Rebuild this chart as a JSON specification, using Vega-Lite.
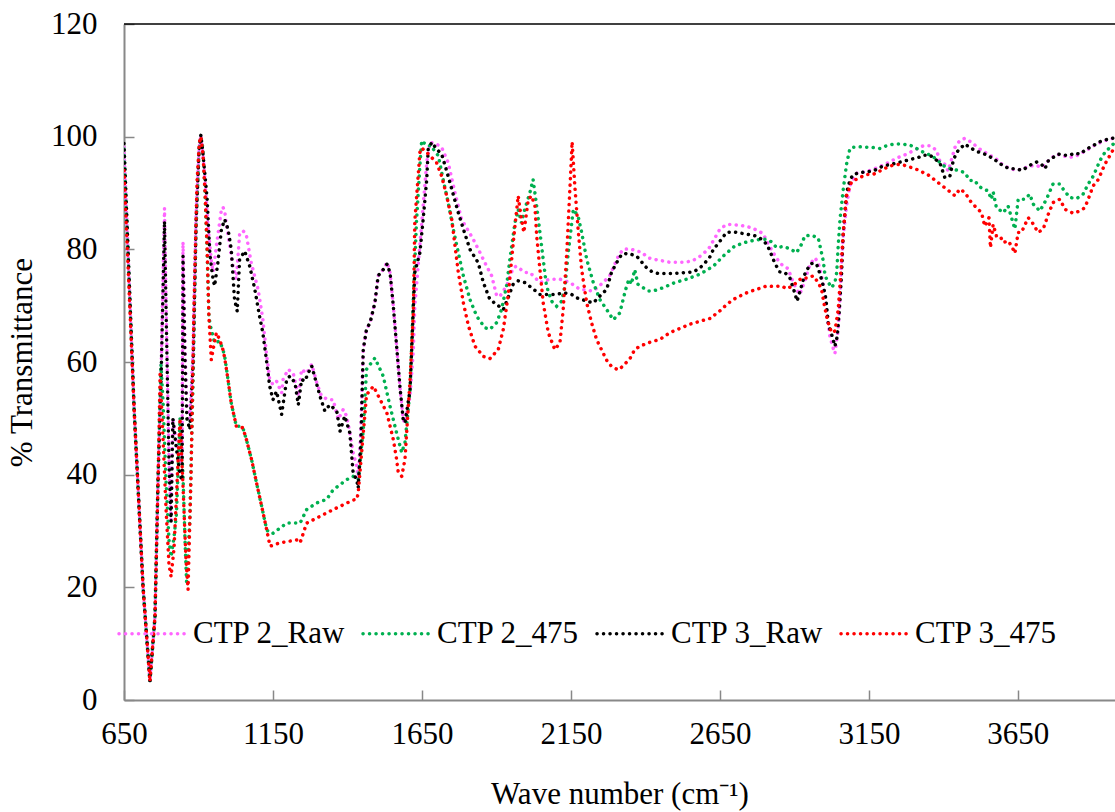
{
"$schema":"https://vega.github.io/schema/vega-lite/v6.json",
"width":991,"height":676,
"autosize":{"type":"none"},
"padding":{"left":124,"top":24,"right":0,"bottom":112},
"background":"white",
"config":{"view":{"stroke":null}},
"layer":[
{"data":{"values":[
{"s":"CTP 2_Raw","x":650,"y":98.1},{"s":"CTP 2_Raw","x":684,"y":51.6},{"s":"CTP 2_Raw","x":714,"y":20},{"s":"CTP 2_Raw","x":737,"y":3.3},{"s":"CTP 2_Raw","x":754,"y":14.8},{"s":"CTP 2_Raw","x":764,"y":38.6},{"s":"CTP 2_Raw","x":774,"y":56.9},{"s":"CTP 2_Raw","x":786,"y":87.3},{"s":"CTP 2_Raw","x":791,"y":71},{"s":"CTP 2_Raw","x":801,"y":42.7},{"s":"CTP 2_Raw","x":808,"y":32},{"s":"CTP 2_Raw","x":814,"y":50},{"s":"CTP 2_Raw","x":825,"y":46},{"s":"CTP 2_Raw","x":838,"y":42},{"s":"CTP 2_Raw","x":845,"y":44},{"s":"CTP 2_Raw","x":848,"y":81.3},{"s":"CTP 2_Raw","x":855,"y":62},{"s":"CTP 2_Raw","x":861,"y":52},{"s":"CTP 2_Raw","x":871,"y":50},{"s":"CTP 2_Raw","x":882,"y":62},{"s":"CTP 2_Raw","x":892,"y":86},{"s":"CTP 2_Raw","x":902,"y":98},{"s":"CTP 2_Raw","x":908,"y":100.3},{"s":"CTP 2_Raw","x":915,"y":97},{"s":"CTP 2_Raw","x":922,"y":92},{"s":"CTP 2_Raw","x":932,"y":84},{"s":"CTP 2_Raw","x":943,"y":78},{"s":"CTP 2_Raw","x":949,"y":76},{"s":"CTP 2_Raw","x":960,"y":80.6},{"s":"CTP 2_Raw","x":977,"y":87.1},{"s":"CTP 2_Raw","x":982,"y":87.5},{"s":"CTP 2_Raw","x":988,"y":86.8},{"s":"CTP 2_Raw","x":993,"y":84.7},{"s":"CTP 2_Raw","x":1005,"y":80.6},{"s":"CTP 2_Raw","x":1016,"y":77},{"s":"CTP 2_Raw","x":1027,"y":74.7},{"s":"CTP 2_Raw","x":1038,"y":82.7},{"s":"CTP 2_Raw","x":1049,"y":83.3},{"s":"CTP 2_Raw","x":1060,"y":82.7},{"s":"CTP 2_Raw","x":1077,"y":77.6},{"s":"CTP 2_Raw","x":1100,"y":72.9},{"s":"CTP 2_Raw","x":1116,"y":67.6},{"s":"CTP 2_Raw","x":1128,"y":61.6},{"s":"CTP 2_Raw","x":1139,"y":56.9},{"s":"CTP 2_Raw","x":1150,"y":56},{"s":"CTP 2_Raw","x":1162,"y":56.6},{"s":"CTP 2_Raw","x":1179,"y":54.5},{"s":"CTP 2_Raw","x":1184,"y":56.9},{"s":"CTP 2_Raw","x":1201,"y":58.7},{"s":"CTP 2_Raw","x":1218,"y":58},{"s":"CTP 2_Raw","x":1235,"y":53.9},{"s":"CTP 2_Raw","x":1246,"y":58.7},{"s":"CTP 2_Raw","x":1263,"y":58},{"s":"CTP 2_Raw","x":1280,"y":59.6},{"s":"CTP 2_Raw","x":1297,"y":56.3},{"s":"CTP 2_Raw","x":1313,"y":53.9},{"s":"CTP 2_Raw","x":1336,"y":53.3},{"s":"CTP 2_Raw","x":1352,"y":53.3},{"s":"CTP 2_Raw","x":1369,"y":49.8},{"s":"CTP 2_Raw","x":1386,"y":51.6},{"s":"CTP 2_Raw","x":1397,"y":50.4},{"s":"CTP 2_Raw","x":1408,"y":47.4},{"s":"CTP 2_Raw","x":1419,"y":43.9},{"s":"CTP 2_Raw","x":1431,"y":41.5},{"s":"CTP 2_Raw","x":1436,"y":39.1},{"s":"CTP 2_Raw","x":1445,"y":48},{"s":"CTP 2_Raw","x":1453,"y":62.2},{"s":"CTP 2_Raw","x":1464,"y":65.8},{"s":"CTP 2_Raw","x":1476,"y":67},{"s":"CTP 2_Raw","x":1492,"y":70.5},{"s":"CTP 2_Raw","x":1503,"y":75.3},{"s":"CTP 2_Raw","x":1520,"y":76.4},{"s":"CTP 2_Raw","x":1533,"y":77.7},{"s":"CTP 2_Raw","x":1543,"y":75.8},{"s":"CTP 2_Raw","x":1554,"y":69.9},{"s":"CTP 2_Raw","x":1565,"y":62.8},{"s":"CTP 2_Raw","x":1576,"y":55.7},{"s":"CTP 2_Raw","x":1587,"y":49.8},{"s":"CTP 2_Raw","x":1593,"y":49.2},{"s":"CTP 2_Raw","x":1610,"y":54},{"s":"CTP 2_Raw","x":1621,"y":62},{"s":"CTP 2_Raw","x":1626,"y":69.9},{"s":"CTP 2_Raw","x":1638,"y":77.6},{"s":"CTP 2_Raw","x":1654,"y":87.7},{"s":"CTP 2_Raw","x":1666,"y":95.4},{"s":"CTP 2_Raw","x":1677,"y":99},{"s":"CTP 2_Raw","x":1699,"y":98.7},{"s":"CTP 2_Raw","x":1716,"y":98.1},{"s":"CTP 2_Raw","x":1738,"y":95.4},{"s":"CTP 2_Raw","x":1761,"y":90},{"s":"CTP 2_Raw","x":1783,"y":85.3},{"s":"CTP 2_Raw","x":1800,"y":83.8},{"s":"CTP 2_Raw","x":1822,"y":81.8},{"s":"CTP 2_Raw","x":1845,"y":79.4},{"s":"CTP 2_Raw","x":1867,"y":77},{"s":"CTP 2_Raw","x":1884,"y":75.3},{"s":"CTP 2_Raw","x":1901,"y":71.7},{"s":"CTP 2_Raw","x":1912,"y":71.7},{"s":"CTP 2_Raw","x":1934,"y":73.5},{"s":"CTP 2_Raw","x":1956,"y":76.7},{"s":"CTP 2_Raw","x":1967,"y":77},{"s":"CTP 2_Raw","x":1995,"y":75.9},{"s":"CTP 2_Raw","x":2012,"y":75.9},{"s":"CTP 2_Raw","x":2046,"y":74.1},{"s":"CTP 2_Raw","x":2079,"y":74.7},{"s":"CTP 2_Raw","x":2113,"y":74.7},{"s":"CTP 2_Raw","x":2147,"y":74.1},{"s":"CTP 2_Raw","x":2180,"y":72.9},{"s":"CTP 2_Raw","x":2225,"y":72.6},{"s":"CTP 2_Raw","x":2258,"y":74.1},{"s":"CTP 2_Raw","x":2280,"y":75.3},{"s":"CTP 2_Raw","x":2309,"y":78.8},{"s":"CTP 2_Raw","x":2325,"y":80},{"s":"CTP 2_Raw","x":2348,"y":80.1},{"s":"CTP 2_Raw","x":2370,"y":79.7},{"s":"CTP 2_Raw","x":2387,"y":79.5},{"s":"CTP 2_Raw","x":2409,"y":78.5},{"s":"CTP 2_Raw","x":2432,"y":78.2},{"s":"CTP 2_Raw","x":2482,"y":77.7},{"s":"CTP 2_Raw","x":2527,"y":77.7},{"s":"CTP 2_Raw","x":2555,"y":77.9},{"s":"CTP 2_Raw","x":2577,"y":78.5},{"s":"CTP 2_Raw","x":2611,"y":80},{"s":"CTP 2_Raw","x":2633,"y":82},{"s":"CTP 2_Raw","x":2650,"y":83.6},{"s":"CTP 2_Raw","x":2672,"y":84.4},{"s":"CTP 2_Raw","x":2695,"y":84.4},{"s":"CTP 2_Raw","x":2739,"y":84.1},{"s":"CTP 2_Raw","x":2762,"y":83.7},{"s":"CTP 2_Raw","x":2795,"y":82.8},{"s":"CTP 2_Raw","x":2807,"y":81.5},{"s":"CTP 2_Raw","x":2829,"y":79.4},{"s":"CTP 2_Raw","x":2846,"y":78},{"s":"CTP 2_Raw","x":2862,"y":77},{"s":"CTP 2_Raw","x":2879,"y":76.6},{"s":"CTP 2_Raw","x":2890,"y":74.9},{"s":"CTP 2_Raw","x":2907,"y":72.9},{"s":"CTP 2_Raw","x":2918,"y":72},{"s":"CTP 2_Raw","x":2935,"y":74.4},{"s":"CTP 2_Raw","x":2952,"y":77.3},{"s":"CTP 2_Raw","x":2969,"y":78.5},{"s":"CTP 2_Raw","x":2980,"y":77.6},{"s":"CTP 2_Raw","x":2991,"y":75.3},{"s":"CTP 2_Raw","x":3003,"y":71.7},{"s":"CTP 2_Raw","x":3010,"y":68.1},{"s":"CTP 2_Raw","x":3019,"y":64.6},{"s":"CTP 2_Raw","x":3028,"y":62.8},{"s":"CTP 2_Raw","x":3036,"y":61.5},{"s":"CTP 2_Raw","x":3047,"y":65.8},{"s":"CTP 2_Raw","x":3053,"y":71.1},{"s":"CTP 2_Raw","x":3058,"y":77},{"s":"CTP 2_Raw","x":3064,"y":82.4},{"s":"CTP 2_Raw","x":3075,"y":87.7},{"s":"CTP 2_Raw","x":3086,"y":91.3},{"s":"CTP 2_Raw","x":3109,"y":93.5},{"s":"CTP 2_Raw","x":3142,"y":93.8},{"s":"CTP 2_Raw","x":3164,"y":94.2},{"s":"CTP 2_Raw","x":3204,"y":95.1},{"s":"CTP 2_Raw","x":3226,"y":95.7},{"s":"CTP 2_Raw","x":3248,"y":96.3},{"s":"CTP 2_Raw","x":3277,"y":96.9},{"s":"CTP 2_Raw","x":3299,"y":97.5},{"s":"CTP 2_Raw","x":3333,"y":98.4},{"s":"CTP 2_Raw","x":3355,"y":98.4},{"s":"CTP 2_Raw","x":3377,"y":97.6},{"s":"CTP 2_Raw","x":3388,"y":95.7},{"s":"CTP 2_Raw","x":3405,"y":95.1},{"s":"CTP 2_Raw","x":3416,"y":93.9},{"s":"CTP 2_Raw","x":3439,"y":98.1},{"s":"CTP 2_Raw","x":3455,"y":99.3},{"s":"CTP 2_Raw","x":3472,"y":99.7},{"s":"CTP 2_Raw","x":3494,"y":99},{"s":"CTP 2_Raw","x":3522,"y":97.8},{"s":"CTP 2_Raw","x":3550,"y":96.9},{"s":"CTP 2_Raw","x":3578,"y":96},{"s":"CTP 2_Raw","x":3601,"y":94.9},{"s":"CTP 2_Raw","x":3617,"y":94.5},{"s":"CTP 2_Raw","x":3640,"y":94.1},{"s":"CTP 2_Raw","x":3662,"y":94.2},{"s":"CTP 2_Raw","x":3690,"y":94.8},{"s":"CTP 2_Raw","x":3713,"y":94.9},{"s":"CTP 2_Raw","x":3729,"y":94.5},{"s":"CTP 2_Raw","x":3752,"y":95.7},{"s":"CTP 2_Raw","x":3780,"y":96.9},{"s":"CTP 2_Raw","x":3802,"y":96.6},{"s":"CTP 2_Raw","x":3824,"y":96.3},{"s":"CTP 2_Raw","x":3847,"y":96.6},{"s":"CTP 2_Raw","x":3881,"y":97.6},{"s":"CTP 2_Raw","x":3914,"y":98.7},{"s":"CTP 2_Raw","x":3948,"y":99.4},{"s":"CTP 2_Raw","x":3965,"y":99.7},{"s":"CTP 2_Raw","x":3976,"y":99.5},
{"s":"CTP 2_475","x":650,"y":97.8},{"s":"CTP 2_475","x":684,"y":51.6},{"s":"CTP 2_475","x":714,"y":20},{"s":"CTP 2_475","x":737,"y":3.3},{"s":"CTP 2_475","x":754,"y":14.8},{"s":"CTP 2_475","x":764,"y":39},{"s":"CTP 2_475","x":774,"y":59.6},{"s":"CTP 2_475","x":781,"y":53},{"s":"CTP 2_475","x":791,"y":39},{"s":"CTP 2_475","x":801,"y":28.4},{"s":"CTP 2_475","x":808,"y":25.4},{"s":"CTP 2_475","x":818,"y":29},{"s":"CTP 2_475","x":826,"y":33},{"s":"CTP 2_475","x":838,"y":50},{"s":"CTP 2_475","x":848,"y":40},{"s":"CTP 2_475","x":855,"y":28},{"s":"CTP 2_475","x":860,"y":21},{"s":"CTP 2_475","x":871,"y":32},{"s":"CTP 2_475","x":882,"y":57},{"s":"CTP 2_475","x":892,"y":83.6},{"s":"CTP 2_475","x":902,"y":97.8},{"s":"CTP 2_475","x":908,"y":100},{"s":"CTP 2_475","x":915,"y":97.8},{"s":"CTP 2_475","x":922,"y":90},{"s":"CTP 2_475","x":929,"y":80},{"s":"CTP 2_475","x":935,"y":68},{"s":"CTP 2_475","x":940,"y":66.4},{"s":"CTP 2_475","x":954,"y":63.4},{"s":"CTP 2_475","x":971,"y":63.7},{"s":"CTP 2_475","x":982,"y":62.2},{"s":"CTP 2_475","x":988,"y":61},{"s":"CTP 2_475","x":999,"y":56.9},{"s":"CTP 2_475","x":1010,"y":52.7},{"s":"CTP 2_475","x":1027,"y":48.6},{"s":"CTP 2_475","x":1038,"y":48.6},{"s":"CTP 2_475","x":1049,"y":48.3},{"s":"CTP 2_475","x":1061,"y":46.2},{"s":"CTP 2_475","x":1078,"y":42.7},{"s":"CTP 2_475","x":1095,"y":38.5},{"s":"CTP 2_475","x":1112,"y":34.4},{"s":"CTP 2_475","x":1129,"y":30.2},{"s":"CTP 2_475","x":1140,"y":29.6},{"s":"CTP 2_475","x":1150,"y":29.6},{"s":"CTP 2_475","x":1196,"y":31.4},{"s":"CTP 2_475","x":1241,"y":31.4},{"s":"CTP 2_475","x":1263,"y":33.8},{"s":"CTP 2_475","x":1297,"y":35},{"s":"CTP 2_475","x":1330,"y":35.6},{"s":"CTP 2_475","x":1352,"y":37.3},{"s":"CTP 2_475","x":1397,"y":39.1},{"s":"CTP 2_475","x":1419,"y":39.7},{"s":"CTP 2_475","x":1436,"y":39.1},{"s":"CTP 2_475","x":1453,"y":48},{"s":"CTP 2_475","x":1464,"y":58.7},{"s":"CTP 2_475","x":1492,"y":60.7},{"s":"CTP 2_475","x":1520,"y":57.5},{"s":"CTP 2_475","x":1543,"y":52.1},{"s":"CTP 2_475","x":1565,"y":47.4},{"s":"CTP 2_475","x":1582,"y":43.9},{"s":"CTP 2_475","x":1593,"y":45.7},{"s":"CTP 2_475","x":1610,"y":55},{"s":"CTP 2_475","x":1621,"y":71},{"s":"CTP 2_475","x":1632,"y":85.3},{"s":"CTP 2_475","x":1643,"y":94.8},{"s":"CTP 2_475","x":1649,"y":99.3},{"s":"CTP 2_475","x":1666,"y":98.4},{"s":"CTP 2_475","x":1683,"y":98.4},{"s":"CTP 2_475","x":1688,"y":97.8},{"s":"CTP 2_475","x":1705,"y":96.6},{"s":"CTP 2_475","x":1721,"y":92.4},{"s":"CTP 2_475","x":1738,"y":88.3},{"s":"CTP 2_475","x":1755,"y":83.6},{"s":"CTP 2_475","x":1772,"y":79.4},{"s":"CTP 2_475","x":1789,"y":75.3},{"s":"CTP 2_475","x":1811,"y":71.1},{"s":"CTP 2_475","x":1834,"y":68.1},{"s":"CTP 2_475","x":1861,"y":66.1},{"s":"CTP 2_475","x":1878,"y":65.8},{"s":"CTP 2_475","x":1901,"y":67},{"s":"CTP 2_475","x":1917,"y":69.3},{"s":"CTP 2_475","x":1934,"y":73.5},{"s":"CTP 2_475","x":1945,"y":78.2},{"s":"CTP 2_475","x":1962,"y":84.7},{"s":"CTP 2_475","x":1973,"y":87.1},{"s":"CTP 2_475","x":1984,"y":84.7},{"s":"CTP 2_475","x":1995,"y":87.1},{"s":"CTP 2_475","x":2012,"y":90},{"s":"CTP 2_475","x":2023,"y":92.4},{"s":"CTP 2_475","x":2035,"y":87.7},{"s":"CTP 2_475","x":2046,"y":83},{"s":"CTP 2_475","x":2057,"y":78.2},{"s":"CTP 2_475","x":2068,"y":73.5},{"s":"CTP 2_475","x":2085,"y":70.8},{"s":"CTP 2_475","x":2102,"y":69.9},{"s":"CTP 2_475","x":2119,"y":70.8},{"s":"CTP 2_475","x":2130,"y":73.5},{"s":"CTP 2_475","x":2141,"y":79.4},{"s":"CTP 2_475","x":2158,"y":87.1},{"s":"CTP 2_475","x":2174,"y":85.9},{"s":"CTP 2_475","x":2186,"y":83},{"s":"CTP 2_475","x":2203,"y":78.2},{"s":"CTP 2_475","x":2225,"y":74.1},{"s":"CTP 2_475","x":2247,"y":71.1},{"s":"CTP 2_475","x":2270,"y":69.3},{"s":"CTP 2_475","x":2292,"y":67.5},{"s":"CTP 2_475","x":2314,"y":68.7},{"s":"CTP 2_475","x":2328,"y":71.7},{"s":"CTP 2_475","x":2337,"y":73.5},{"s":"CTP 2_475","x":2345,"y":74.7},{"s":"CTP 2_475","x":2353,"y":73.8},{"s":"CTP 2_475","x":2364,"y":76.4},{"s":"CTP 2_475","x":2375,"y":73.8},{"s":"CTP 2_475","x":2392,"y":73.2},{"s":"CTP 2_475","x":2409,"y":72.6},{"s":"CTP 2_475","x":2426,"y":72.6},{"s":"CTP 2_475","x":2460,"y":73.2},{"s":"CTP 2_475","x":2499,"y":74.1},{"s":"CTP 2_475","x":2538,"y":74.7},{"s":"CTP 2_475","x":2583,"y":75.6},{"s":"CTP 2_475","x":2628,"y":77},{"s":"CTP 2_475","x":2661,"y":78.8},{"s":"CTP 2_475","x":2700,"y":80.6},{"s":"CTP 2_475","x":2739,"y":81.3},{"s":"CTP 2_475","x":2773,"y":81.7},{"s":"CTP 2_475","x":2807,"y":81.8},{"s":"CTP 2_475","x":2824,"y":81.3},{"s":"CTP 2_475","x":2840,"y":80.3},{"s":"CTP 2_475","x":2862,"y":80.5},{"s":"CTP 2_475","x":2885,"y":80.1},{"s":"CTP 2_475","x":2907,"y":79.4},{"s":"CTP 2_475","x":2924,"y":80.9},{"s":"CTP 2_475","x":2935,"y":82.4},{"s":"CTP 2_475","x":2958,"y":82.5},{"s":"CTP 2_475","x":2980,"y":82},{"s":"CTP 2_475","x":2986,"y":80.6},{"s":"CTP 2_475","x":2997,"y":77.9},{"s":"CTP 2_475","x":3003,"y":75.3},{"s":"CTP 2_475","x":3014,"y":74.1},{"s":"CTP 2_475","x":3025,"y":73.2},{"s":"CTP 2_475","x":3036,"y":74.1},{"s":"CTP 2_475","x":3042,"y":75.9},{"s":"CTP 2_475","x":3047,"y":80.6},{"s":"CTP 2_475","x":3053,"y":85.3},{"s":"CTP 2_475","x":3064,"y":90.7},{"s":"CTP 2_475","x":3075,"y":95.1},{"s":"CTP 2_475","x":3086,"y":97.8},{"s":"CTP 2_475","x":3092,"y":98.1},{"s":"CTP 2_475","x":3120,"y":98.2},{"s":"CTP 2_475","x":3159,"y":98.1},{"s":"CTP 2_475","x":3187,"y":97.9},{"s":"CTP 2_475","x":3215,"y":98.5},{"s":"CTP 2_475","x":3237,"y":98.7},{"s":"CTP 2_475","x":3260,"y":98.7},{"s":"CTP 2_475","x":3288,"y":98.5},{"s":"CTP 2_475","x":3310,"y":97.9},{"s":"CTP 2_475","x":3330,"y":97.3},{"s":"CTP 2_475","x":3361,"y":96.6},{"s":"CTP 2_475","x":3377,"y":96},{"s":"CTP 2_475","x":3394,"y":95.1},{"s":"CTP 2_475","x":3411,"y":94.5},{"s":"CTP 2_475","x":3433,"y":94.2},{"s":"CTP 2_475","x":3450,"y":94},{"s":"CTP 2_475","x":3472,"y":93.6},{"s":"CTP 2_475","x":3489,"y":92.2},{"s":"CTP 2_475","x":3506,"y":92.2},{"s":"CTP 2_475","x":3517,"y":91.3},{"s":"CTP 2_475","x":3533,"y":90.7},{"s":"CTP 2_475","x":3550,"y":90.4},{"s":"CTP 2_475","x":3561,"y":88.9},{"s":"CTP 2_475","x":3567,"y":90.2},{"s":"CTP 2_475","x":3578,"y":87.4},{"s":"CTP 2_475","x":3601,"y":86.5},{"s":"CTP 2_475","x":3617,"y":87.7},{"s":"CTP 2_475","x":3640,"y":83.6},{"s":"CTP 2_475","x":3651,"y":88.9},{"s":"CTP 2_475","x":3674,"y":88.9},{"s":"CTP 2_475","x":3690,"y":89.8},{"s":"CTP 2_475","x":3702,"y":88},{"s":"CTP 2_475","x":3724,"y":86.8},{"s":"CTP 2_475","x":3746,"y":88.9},{"s":"CTP 2_475","x":3768,"y":91.6},{"s":"CTP 2_475","x":3791,"y":91.6},{"s":"CTP 2_475","x":3802,"y":90.7},{"s":"CTP 2_475","x":3824,"y":89.2},{"s":"CTP 2_475","x":3847,"y":89},{"s":"CTP 2_475","x":3869,"y":89.8},{"s":"CTP 2_475","x":3886,"y":91.6},{"s":"CTP 2_475","x":3903,"y":93},{"s":"CTP 2_475","x":3925,"y":95.7},{"s":"CTP 2_475","x":3942,"y":97.2},{"s":"CTP 2_475","x":3965,"y":98.4},{"s":"CTP 2_475","x":3976,"y":99},
{"s":"CTP 3_Raw","x":650,"y":98.8},{"s":"CTP 3_Raw","x":684,"y":51.6},{"s":"CTP 3_Raw","x":714,"y":20},{"s":"CTP 3_Raw","x":737,"y":3.3},{"s":"CTP 3_Raw","x":754,"y":14.8},{"s":"CTP 3_Raw","x":764,"y":38.6},{"s":"CTP 3_Raw","x":774,"y":56},{"s":"CTP 3_Raw","x":786,"y":85},{"s":"CTP 3_Raw","x":791,"y":70},{"s":"CTP 3_Raw","x":801,"y":42},{"s":"CTP 3_Raw","x":808,"y":31.7},{"s":"CTP 3_Raw","x":814,"y":50},{"s":"CTP 3_Raw","x":825,"y":45},{"s":"CTP 3_Raw","x":838,"y":40},{"s":"CTP 3_Raw","x":845,"y":39},{"s":"CTP 3_Raw","x":848,"y":78.8},{"s":"CTP 3_Raw","x":855,"y":60},{"s":"CTP 3_Raw","x":861,"y":50},{"s":"CTP 3_Raw","x":871,"y":48},{"s":"CTP 3_Raw","x":882,"y":60},{"s":"CTP 3_Raw","x":892,"y":85},{"s":"CTP 3_Raw","x":902,"y":97.8},{"s":"CTP 3_Raw","x":908,"y":100.3},{"s":"CTP 3_Raw","x":915,"y":97},{"s":"CTP 3_Raw","x":922,"y":93},{"s":"CTP 3_Raw","x":929,"y":88.9},{"s":"CTP 3_Raw","x":938,"y":79.4},{"s":"CTP 3_Raw","x":943,"y":77},{"s":"CTP 3_Raw","x":949,"y":74.7},{"s":"CTP 3_Raw","x":954,"y":73.5},{"s":"CTP 3_Raw","x":965,"y":77.6},{"s":"CTP 3_Raw","x":977,"y":83.6},{"s":"CTP 3_Raw","x":988,"y":85.3},{"s":"CTP 3_Raw","x":999,"y":83.6},{"s":"CTP 3_Raw","x":1010,"y":80},{"s":"CTP 3_Raw","x":1021,"y":71.1},{"s":"CTP 3_Raw","x":1030,"y":69},{"s":"CTP 3_Raw","x":1038,"y":78.2},{"s":"CTP 3_Raw","x":1055,"y":79.7},{"s":"CTP 3_Raw","x":1072,"y":77},{"s":"CTP 3_Raw","x":1089,"y":72.9},{"s":"CTP 3_Raw","x":1105,"y":68.1},{"s":"CTP 3_Raw","x":1116,"y":65.2},{"s":"CTP 3_Raw","x":1128,"y":60.4},{"s":"CTP 3_Raw","x":1139,"y":55.7},{"s":"CTP 3_Raw","x":1150,"y":53.3},{"s":"CTP 3_Raw","x":1162,"y":54.8},{"s":"CTP 3_Raw","x":1179,"y":50.7},{"s":"CTP 3_Raw","x":1196,"y":56.9},{"s":"CTP 3_Raw","x":1207,"y":57.5},{"s":"CTP 3_Raw","x":1224,"y":56.3},{"s":"CTP 3_Raw","x":1235,"y":52.4},{"s":"CTP 3_Raw","x":1246,"y":56.9},{"s":"CTP 3_Raw","x":1257,"y":56.6},{"s":"CTP 3_Raw","x":1268,"y":58},{"s":"CTP 3_Raw","x":1280,"y":59.3},{"s":"CTP 3_Raw","x":1308,"y":53.9},{"s":"CTP 3_Raw","x":1324,"y":51.3},{"s":"CTP 3_Raw","x":1341,"y":52.4},{"s":"CTP 3_Raw","x":1364,"y":51.3},{"s":"CTP 3_Raw","x":1375,"y":47.7},{"s":"CTP 3_Raw","x":1391,"y":50.4},{"s":"CTP 3_Raw","x":1408,"y":47.4},{"s":"CTP 3_Raw","x":1419,"y":40.3},{"s":"CTP 3_Raw","x":1431,"y":39.1},{"s":"CTP 3_Raw","x":1436,"y":37.6},{"s":"CTP 3_Raw","x":1445,"y":46},{"s":"CTP 3_Raw","x":1453,"y":62.2},{"s":"CTP 3_Raw","x":1464,"y":65.8},{"s":"CTP 3_Raw","x":1476,"y":67},{"s":"CTP 3_Raw","x":1492,"y":70.5},{"s":"CTP 3_Raw","x":1503,"y":75.3},{"s":"CTP 3_Raw","x":1520,"y":76.4},{"s":"CTP 3_Raw","x":1533,"y":77.4},{"s":"CTP 3_Raw","x":1543,"y":75.8},{"s":"CTP 3_Raw","x":1554,"y":69.9},{"s":"CTP 3_Raw","x":1565,"y":62.8},{"s":"CTP 3_Raw","x":1576,"y":55.7},{"s":"CTP 3_Raw","x":1587,"y":49.8},{"s":"CTP 3_Raw","x":1593,"y":49.2},{"s":"CTP 3_Raw","x":1610,"y":55},{"s":"CTP 3_Raw","x":1615,"y":61.6},{"s":"CTP 3_Raw","x":1626,"y":75.9},{"s":"CTP 3_Raw","x":1643,"y":79.4},{"s":"CTP 3_Raw","x":1654,"y":85.3},{"s":"CTP 3_Raw","x":1666,"y":92.4},{"s":"CTP 3_Raw","x":1671,"y":97.8},{"s":"CTP 3_Raw","x":1683,"y":99},{"s":"CTP 3_Raw","x":1699,"y":97.8},{"s":"CTP 3_Raw","x":1716,"y":96.9},{"s":"CTP 3_Raw","x":1733,"y":93.9},{"s":"CTP 3_Raw","x":1750,"y":90.7},{"s":"CTP 3_Raw","x":1772,"y":86.5},{"s":"CTP 3_Raw","x":1789,"y":83.6},{"s":"CTP 3_Raw","x":1811,"y":80},{"s":"CTP 3_Raw","x":1839,"y":77.6},{"s":"CTP 3_Raw","x":1856,"y":74.1},{"s":"CTP 3_Raw","x":1878,"y":71.1},{"s":"CTP 3_Raw","x":1901,"y":70.2},{"s":"CTP 3_Raw","x":1923,"y":69.3},{"s":"CTP 3_Raw","x":1939,"y":71.4},{"s":"CTP 3_Raw","x":1956,"y":73.8},{"s":"CTP 3_Raw","x":1973,"y":74.4},{"s":"CTP 3_Raw","x":1995,"y":74.1},{"s":"CTP 3_Raw","x":2018,"y":73.2},{"s":"CTP 3_Raw","x":2046,"y":72},{"s":"CTP 3_Raw","x":2079,"y":72},{"s":"CTP 3_Raw","x":2102,"y":72},{"s":"CTP 3_Raw","x":2124,"y":72.3},{"s":"CTP 3_Raw","x":2152,"y":72},{"s":"CTP 3_Raw","x":2169,"y":71.4},{"s":"CTP 3_Raw","x":2203,"y":70.8},{"s":"CTP 3_Raw","x":2225,"y":70.5},{"s":"CTP 3_Raw","x":2247,"y":71.7},{"s":"CTP 3_Raw","x":2270,"y":72.9},{"s":"CTP 3_Raw","x":2286,"y":75.9},{"s":"CTP 3_Raw","x":2303,"y":77.6},{"s":"CTP 3_Raw","x":2320,"y":79.1},{"s":"CTP 3_Raw","x":2342,"y":79.3},{"s":"CTP 3_Raw","x":2370,"y":78.8},{"s":"CTP 3_Raw","x":2381,"y":78.2},{"s":"CTP 3_Raw","x":2398,"y":77},{"s":"CTP 3_Raw","x":2420,"y":76.1},{"s":"CTP 3_Raw","x":2443,"y":75.7},{"s":"CTP 3_Raw","x":2488,"y":75.7},{"s":"CTP 3_Raw","x":2538,"y":75.9},{"s":"CTP 3_Raw","x":2561,"y":76},{"s":"CTP 3_Raw","x":2583,"y":76.7},{"s":"CTP 3_Raw","x":2600,"y":77.6},{"s":"CTP 3_Raw","x":2617,"y":78.7},{"s":"CTP 3_Raw","x":2628,"y":80},{"s":"CTP 3_Raw","x":2644,"y":81},{"s":"CTP 3_Raw","x":2672,"y":83},{"s":"CTP 3_Raw","x":2695,"y":83.1},{"s":"CTP 3_Raw","x":2739,"y":82.7},{"s":"CTP 3_Raw","x":2768,"y":82.4},{"s":"CTP 3_Raw","x":2790,"y":81.8},{"s":"CTP 3_Raw","x":2807,"y":80.9},{"s":"CTP 3_Raw","x":2818,"y":79.7},{"s":"CTP 3_Raw","x":2829,"y":78.2},{"s":"CTP 3_Raw","x":2840,"y":77},{"s":"CTP 3_Raw","x":2851,"y":76},{"s":"CTP 3_Raw","x":2868,"y":75.9},{"s":"CTP 3_Raw","x":2885,"y":74.9},{"s":"CTP 3_Raw","x":2901,"y":72.3},{"s":"CTP 3_Raw","x":2909,"y":70.8},{"s":"CTP 3_Raw","x":2924,"y":73.5},{"s":"CTP 3_Raw","x":2935,"y":75.6},{"s":"CTP 3_Raw","x":2952,"y":77.3},{"s":"CTP 3_Raw","x":2963,"y":77.6},{"s":"CTP 3_Raw","x":2975,"y":77.3},{"s":"CTP 3_Raw","x":2986,"y":75.6},{"s":"CTP 3_Raw","x":2997,"y":73.5},{"s":"CTP 3_Raw","x":3006,"y":71.1},{"s":"CTP 3_Raw","x":3014,"y":66.7},{"s":"CTP 3_Raw","x":3025,"y":64.9},{"s":"CTP 3_Raw","x":3036,"y":62.8},{"s":"CTP 3_Raw","x":3044,"y":64.6},{"s":"CTP 3_Raw","x":3050,"y":68.7},{"s":"CTP 3_Raw","x":3058,"y":75.3},{"s":"CTP 3_Raw","x":3064,"y":83},{"s":"CTP 3_Raw","x":3075,"y":90},{"s":"CTP 3_Raw","x":3086,"y":92.2},{"s":"CTP 3_Raw","x":3097,"y":93.3},{"s":"CTP 3_Raw","x":3120,"y":93.6},{"s":"CTP 3_Raw","x":3164,"y":93.9},{"s":"CTP 3_Raw","x":3198,"y":94.8},{"s":"CTP 3_Raw","x":3226,"y":95.1},{"s":"CTP 3_Raw","x":3248,"y":95.4},{"s":"CTP 3_Raw","x":3271,"y":95.7},{"s":"CTP 3_Raw","x":3293,"y":96},{"s":"CTP 3_Raw","x":3316,"y":96.3},{"s":"CTP 3_Raw","x":3333,"y":96.7},{"s":"CTP 3_Raw","x":3355,"y":96.7},{"s":"CTP 3_Raw","x":3372,"y":96},{"s":"CTP 3_Raw","x":3388,"y":95.4},{"s":"CTP 3_Raw","x":3405,"y":92.7},{"s":"CTP 3_Raw","x":3422,"y":93},{"s":"CTP 3_Raw","x":3433,"y":95.7},{"s":"CTP 3_Raw","x":3444,"y":97.2},{"s":"CTP 3_Raw","x":3472,"y":98.7},{"s":"CTP 3_Raw","x":3494,"y":97.9},{"s":"CTP 3_Raw","x":3517,"y":97.3},{"s":"CTP 3_Raw","x":3539,"y":96.9},{"s":"CTP 3_Raw","x":3561,"y":96.3},{"s":"CTP 3_Raw","x":3578,"y":95.7},{"s":"CTP 3_Raw","x":3601,"y":94.8},{"s":"CTP 3_Raw","x":3623,"y":94.3},{"s":"CTP 3_Raw","x":3646,"y":94.3},{"s":"CTP 3_Raw","x":3662,"y":94},{"s":"CTP 3_Raw","x":3679,"y":94.5},{"s":"CTP 3_Raw","x":3696,"y":95.1},{"s":"CTP 3_Raw","x":3713,"y":95.5},{"s":"CTP 3_Raw","x":3729,"y":95.1},{"s":"CTP 3_Raw","x":3741,"y":94.3},{"s":"CTP 3_Raw","x":3752,"y":95.7},{"s":"CTP 3_Raw","x":3768,"y":96.3},{"s":"CTP 3_Raw","x":3785,"y":96.9},{"s":"CTP 3_Raw","x":3808,"y":96.7},{"s":"CTP 3_Raw","x":3824,"y":96.7},{"s":"CTP 3_Raw","x":3841,"y":97.1},{"s":"CTP 3_Raw","x":3858,"y":96.9},{"s":"CTP 3_Raw","x":3881,"y":97.8},{"s":"CTP 3_Raw","x":3903,"y":98.4},{"s":"CTP 3_Raw","x":3920,"y":99},{"s":"CTP 3_Raw","x":3942,"y":99.4},{"s":"CTP 3_Raw","x":3965,"y":99.7},{"s":"CTP 3_Raw","x":3976,"y":99.8},
{"s":"CTP 3_475","x":650,"y":94},{"s":"CTP 3_475","x":684,"y":51.6},{"s":"CTP 3_475","x":714,"y":20},{"s":"CTP 3_475","x":737,"y":3.3},{"s":"CTP 3_475","x":754,"y":14.8},{"s":"CTP 3_475","x":764,"y":38},{"s":"CTP 3_475","x":771,"y":57.8},{"s":"CTP 3_475","x":778,"y":50},{"s":"CTP 3_475","x":791,"y":34},{"s":"CTP 3_475","x":801,"y":24},{"s":"CTP 3_475","x":808,"y":21.9},{"s":"CTP 3_475","x":818,"y":27},{"s":"CTP 3_475","x":838,"y":50},{"s":"CTP 3_475","x":848,"y":38},{"s":"CTP 3_475","x":858,"y":25},{"s":"CTP 3_475","x":865,"y":19.6},{"s":"CTP 3_475","x":875,"y":40},{"s":"CTP 3_475","x":885,"y":70},{"s":"CTP 3_475","x":895,"y":92},{"s":"CTP 3_475","x":903,"y":99},{"s":"CTP 3_475","x":908,"y":100},{"s":"CTP 3_475","x":915,"y":97},{"s":"CTP 3_475","x":922,"y":90},{"s":"CTP 3_475","x":929,"y":80},{"s":"CTP 3_475","x":935,"y":68},{"s":"CTP 3_475","x":943,"y":60.4},{"s":"CTP 3_475","x":949,"y":62.2},{"s":"CTP 3_475","x":960,"y":65.2},{"s":"CTP 3_475","x":971,"y":64},{"s":"CTP 3_475","x":982,"y":62.2},{"s":"CTP 3_475","x":988,"y":60.7},{"s":"CTP 3_475","x":999,"y":56.9},{"s":"CTP 3_475","x":1010,"y":52.7},{"s":"CTP 3_475","x":1027,"y":48.6},{"s":"CTP 3_475","x":1038,"y":48.6},{"s":"CTP 3_475","x":1049,"y":48.3},{"s":"CTP 3_475","x":1061,"y":46.2},{"s":"CTP 3_475","x":1078,"y":42.7},{"s":"CTP 3_475","x":1095,"y":38.5},{"s":"CTP 3_475","x":1112,"y":34.4},{"s":"CTP 3_475","x":1129,"y":30.2},{"s":"CTP 3_475","x":1140,"y":27.3},{"s":"CTP 3_475","x":1173,"y":27.9},{"s":"CTP 3_475","x":1207,"y":28.2},{"s":"CTP 3_475","x":1230,"y":28.4},{"s":"CTP 3_475","x":1241,"y":27.9},{"s":"CTP 3_475","x":1263,"y":31.4},{"s":"CTP 3_475","x":1297,"y":32.3},{"s":"CTP 3_475","x":1352,"y":33.8},{"s":"CTP 3_475","x":1419,"y":35.5},{"s":"CTP 3_475","x":1431,"y":35.6},{"s":"CTP 3_475","x":1436,"y":36.7},{"s":"CTP 3_475","x":1459,"y":51},{"s":"CTP 3_475","x":1464,"y":54.2},{"s":"CTP 3_475","x":1487,"y":55.7},{"s":"CTP 3_475","x":1532,"y":51},{"s":"CTP 3_475","x":1554,"y":46.2},{"s":"CTP 3_475","x":1565,"y":42.7},{"s":"CTP 3_475","x":1570,"y":40.6},{"s":"CTP 3_475","x":1582,"y":39.7},{"s":"CTP 3_475","x":1593,"y":42.7},{"s":"CTP 3_475","x":1610,"y":56.9},{"s":"CTP 3_475","x":1621,"y":68.7},{"s":"CTP 3_475","x":1626,"y":85},{"s":"CTP 3_475","x":1643,"y":97.2},{"s":"CTP 3_475","x":1649,"y":98},{"s":"CTP 3_475","x":1666,"y":97.2},{"s":"CTP 3_475","x":1699,"y":95.4},{"s":"CTP 3_475","x":1716,"y":93},{"s":"CTP 3_475","x":1733,"y":89.5},{"s":"CTP 3_475","x":1750,"y":85.3},{"s":"CTP 3_475","x":1761,"y":80.6},{"s":"CTP 3_475","x":1772,"y":75.9},{"s":"CTP 3_475","x":1789,"y":70.5},{"s":"CTP 3_475","x":1806,"y":66.4},{"s":"CTP 3_475","x":1828,"y":62.8},{"s":"CTP 3_475","x":1856,"y":61},{"s":"CTP 3_475","x":1878,"y":60.6},{"s":"CTP 3_475","x":1906,"y":62.2},{"s":"CTP 3_475","x":1923,"y":65.8},{"s":"CTP 3_475","x":1939,"y":71.7},{"s":"CTP 3_475","x":1951,"y":78.2},{"s":"CTP 3_475","x":1962,"y":84.1},{"s":"CTP 3_475","x":1973,"y":89.5},{"s":"CTP 3_475","x":1984,"y":85.3},{"s":"CTP 3_475","x":1992,"y":83},{"s":"CTP 3_475","x":2007,"y":88.9},{"s":"CTP 3_475","x":2018,"y":89.5},{"s":"CTP 3_475","x":2029,"y":87.7},{"s":"CTP 3_475","x":2035,"y":82.4},{"s":"CTP 3_475","x":2046,"y":76.4},{"s":"CTP 3_475","x":2057,"y":70.5},{"s":"CTP 3_475","x":2074,"y":65.2},{"s":"CTP 3_475","x":2096,"y":62.2},{"s":"CTP 3_475","x":2113,"y":63.4},{"s":"CTP 3_475","x":2124,"y":69.3},{"s":"CTP 3_475","x":2136,"y":79.4},{"s":"CTP 3_475","x":2147,"y":91.3},{"s":"CTP 3_475","x":2154,"y":99.1},{"s":"CTP 3_475","x":2163,"y":91.3},{"s":"CTP 3_475","x":2174,"y":83.6},{"s":"CTP 3_475","x":2186,"y":76.4},{"s":"CTP 3_475","x":2203,"y":70.5},{"s":"CTP 3_475","x":2219,"y":67},{"s":"CTP 3_475","x":2236,"y":64},{"s":"CTP 3_475","x":2258,"y":61.6},{"s":"CTP 3_475","x":2275,"y":59.8},{"s":"CTP 3_475","x":2292,"y":59},{"s":"CTP 3_475","x":2309,"y":58.6},{"s":"CTP 3_475","x":2325,"y":59.3},{"s":"CTP 3_475","x":2348,"y":60.6},{"s":"CTP 3_475","x":2364,"y":62.2},{"s":"CTP 3_475","x":2381,"y":62.8},{"s":"CTP 3_475","x":2415,"y":63.5},{"s":"CTP 3_475","x":2448,"y":64},{"s":"CTP 3_475","x":2482,"y":65.2},{"s":"CTP 3_475","x":2522,"y":66.1},{"s":"CTP 3_475","x":2549,"y":66.7},{"s":"CTP 3_475","x":2594,"y":67.4},{"s":"CTP 3_475","x":2622,"y":67.8},{"s":"CTP 3_475","x":2639,"y":68.7},{"s":"CTP 3_475","x":2656,"y":69.3},{"s":"CTP 3_475","x":2672,"y":70.2},{"s":"CTP 3_475","x":2695,"y":71.1},{"s":"CTP 3_475","x":2717,"y":71.7},{"s":"CTP 3_475","x":2745,"y":72.4},{"s":"CTP 3_475","x":2779,"y":73},{"s":"CTP 3_475","x":2807,"y":73.5},{"s":"CTP 3_475","x":2829,"y":73.4},{"s":"CTP 3_475","x":2857,"y":73.5},{"s":"CTP 3_475","x":2874,"y":73},{"s":"CTP 3_475","x":2890,"y":73.4},{"s":"CTP 3_475","x":2907,"y":74.1},{"s":"CTP 3_475","x":2924,"y":74.9},{"s":"CTP 3_475","x":2946,"y":74.9},{"s":"CTP 3_475","x":2963,"y":75.3},{"s":"CTP 3_475","x":2980,"y":74.1},{"s":"CTP 3_475","x":2991,"y":72.9},{"s":"CTP 3_475","x":2999,"y":70.5},{"s":"CTP 3_475","x":3008,"y":68.1},{"s":"CTP 3_475","x":3017,"y":66.4},{"s":"CTP 3_475","x":3025,"y":65.2},{"s":"CTP 3_475","x":3036,"y":65.5},{"s":"CTP 3_475","x":3047,"y":69.3},{"s":"CTP 3_475","x":3055,"y":75.3},{"s":"CTP 3_475","x":3064,"y":83},{"s":"CTP 3_475","x":3075,"y":89.5},{"s":"CTP 3_475","x":3092,"y":92},{"s":"CTP 3_475","x":3114,"y":92.6},{"s":"CTP 3_475","x":3142,"y":93.3},{"s":"CTP 3_475","x":3164,"y":93.3},{"s":"CTP 3_475","x":3187,"y":93.9},{"s":"CTP 3_475","x":3220,"y":94.8},{"s":"CTP 3_475","x":3254,"y":95.1},{"s":"CTP 3_475","x":3277,"y":94.8},{"s":"CTP 3_475","x":3310,"y":94.2},{"s":"CTP 3_475","x":3349,"y":93.2},{"s":"CTP 3_475","x":3388,"y":91.6},{"s":"CTP 3_475","x":3411,"y":90.7},{"s":"CTP 3_475","x":3439,"y":89.5},{"s":"CTP 3_475","x":3455,"y":90.7},{"s":"CTP 3_475","x":3472,"y":90.1},{"s":"CTP 3_475","x":3494,"y":88.3},{"s":"CTP 3_475","x":3511,"y":87.4},{"s":"CTP 3_475","x":3528,"y":86.5},{"s":"CTP 3_475","x":3539,"y":84.1},{"s":"CTP 3_475","x":3553,"y":85.6},{"s":"CTP 3_475","x":3558,"y":80.3},{"s":"CTP 3_475","x":3567,"y":84.4},{"s":"CTP 3_475","x":3578,"y":82.4},{"s":"CTP 3_475","x":3590,"y":82.4},{"s":"CTP 3_475","x":3601,"y":81.2},{"s":"CTP 3_475","x":3617,"y":81.5},{"s":"CTP 3_475","x":3629,"y":80.6},{"s":"CTP 3_475","x":3640,"y":79.3},{"s":"CTP 3_475","x":3651,"y":83},{"s":"CTP 3_475","x":3662,"y":83},{"s":"CTP 3_475","x":3674,"y":84.4},{"s":"CTP 3_475","x":3685,"y":85.6},{"s":"CTP 3_475","x":3699,"y":84.7},{"s":"CTP 3_475","x":3718,"y":83},{"s":"CTP 3_475","x":3735,"y":83.6},{"s":"CTP 3_475","x":3752,"y":86.2},{"s":"CTP 3_475","x":3768,"y":88.3},{"s":"CTP 3_475","x":3791,"y":88.9},{"s":"CTP 3_475","x":3808,"y":87.1},{"s":"CTP 3_475","x":3836,"y":86.4},{"s":"CTP 3_475","x":3858,"y":86.8},{"s":"CTP 3_475","x":3875,"y":87.4},{"s":"CTP 3_475","x":3886,"y":88.9},{"s":"CTP 3_475","x":3903,"y":91.3},{"s":"CTP 3_475","x":3920,"y":92.4},{"s":"CTP 3_475","x":3937,"y":94.5},{"s":"CTP 3_475","x":3948,"y":95.7},{"s":"CTP 3_475","x":3965,"y":97.2},{"s":"CTP 3_475","x":3976,"y":98.4}
]},
"mark":{"type":"line","strokeWidth":3.5,"strokeDash":[0.1,6.4],"strokeCap":"round","clip":true},
"encoding":{
"x":{"field":"x","type":"quantitative","scale":{"domain":[650,3976],"nice":false,"zero":false},
"axis":{"title":"Wave number (cm⁻¹)","values":[650,1150,1650,2150,2650,3150,3650],"format":"d","grid":false,"tickSize":-10,"tickColor":"#888888","tickWidth":1.5,"domainColor":"#888888","domainWidth":2,"labelFont":"Liberation Serif","labelFontSize":31,"labelColor":"black","labelPadding":29,"labelFlush":false,"labelOverlap":false,"titleFont":"Liberation Serif","titleFontSize":31,"titleFontWeight":"normal","titleColor":"black","titlePadding":30}},
"y":{"field":"y","type":"quantitative","scale":{"domain":[0,120],"nice":false,"zero":true},
"axis":{"title":"% Transmittance","values":[0,20,40,60,80,100,120],"format":"d","grid":false,"tickSize":-10,"tickColor":"#888888","tickWidth":1.5,"domainColor":"#888888","domainWidth":2,"labelFont":"Liberation Serif","labelFontSize":31,"labelColor":"black","labelPadding":37,"labelFlush":false,"labelOverlap":false,"titleFont":"Liberation Serif","titleFontSize":31,"titleFontWeight":"normal","titleColor":"black","titlePadding":12}},
"color":{"field":"s","type":"nominal","scale":{"domain":["CTP 2_Raw","CTP 2_475","CTP 3_Raw","CTP 3_475"],"range":["#FF66FF","#00B050","#000000","#FF0000"]},
"legend":{"title":null,"orient":"none","legendX":-7,"legendY":574,"direction":"horizontal","symbolType":"stroke","symbolSize":4489,"symbolStrokeWidth":3.5,"symbolDash":[0.1,6.4],"labelFont":"Liberation Serif","labelFontSize":31,"labelColor":"black","labelOffset":5,"columnPadding":10,"padding":0,"encode":{"symbols":{"update":{"strokeCap":{"value":"round"}}}}}}
}},
{"data":{"values":[{}]},"mark":{"type":"rule","color":"black","strokeWidth":1.5},"encoding":{"y":{"datum":120}}}
]
}
